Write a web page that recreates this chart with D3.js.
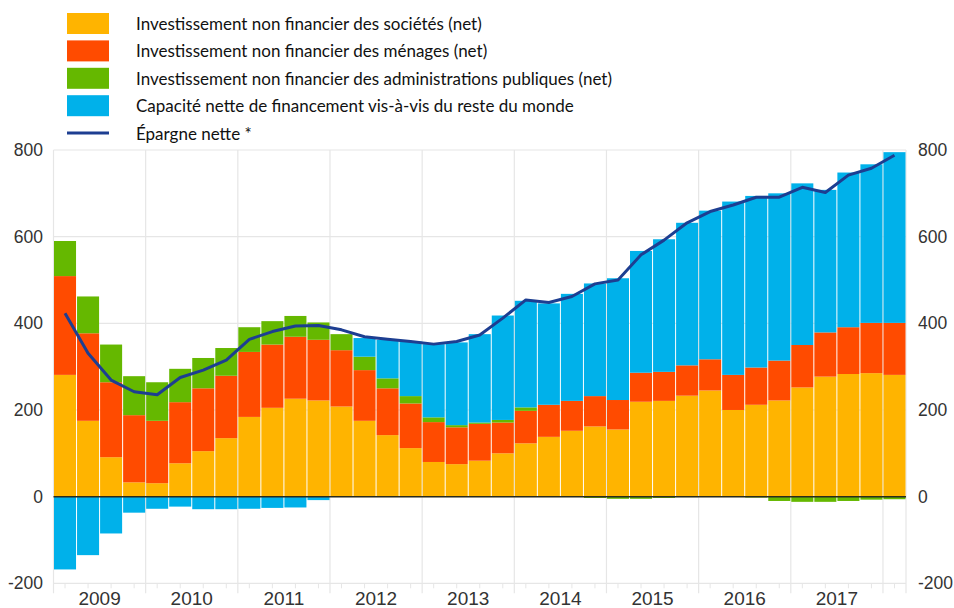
<!DOCTYPE html>
<html>
<head>
<meta charset="utf-8">
<style>
  body { margin: 0; background: #fff; }
  svg { display: block; }
  .tick-label { font-family: "Liberation Sans", Arial, sans-serif; font-size: 17.5px; fill: #333; }
  .year-label { font-family: "Liberation Sans", Arial, sans-serif; font-size: 19px; fill: #333; }
  .legend-label { font-family: Lato, "Open Sans", sans-serif; font-size: 17px; fill: #111; }
</style>
</head>
<body>
<svg width="954" height="608"></svg>
<script src="https://cdnjs.cloudflare.com/ajax/libs/d3/7.8.5/d3.min.js"></script>
<script>
// quarters 2009Q1 .. 2018Q1
let quarters = []
for (let y = 2009; y <= 2018; y++) {
  for (let q = 1; q <= 4; q++) {
    if (y == 2018 && q > 1) break
    quarters.push(y + "Q" + q)
  }
}

let years = ["2009", "2010", "2011", "2012", "2013", "2014", "2015", "2016", "2017"]
let yTicks = [-200, 0, 200, 400, 600, 800]

let seriesNames = [
  "Investissement non financier des sociétés (net)",
  "Investissement non financier des ménages (net)",
  "Investissement non financier des administrations publiques (net)",
  "Capacité nette de financement vis-à-vis du reste du monde"
]
let lineName = "Épargne nette *"

let societes = [281, 175, 91, 33, 31, 77, 105, 135, 184, 205, 226, 222,
  208, 175, 142, 112, 80, 75, 83, 100, 123, 138, 152, 162, 155,
  219, 221, 233, 245, 200, 212, 222, 252, 277, 283, 285, 281]

let menages = [228, 202, 173, 155, 144, 141, 145, 144, 150, 146, 143, 140,
  130, 117, 108, 103, 92, 85, 85, 71, 75, 74, 69, 70, 68,
  67, 67, 70, 72, 81, 86, 92, 98, 102, 108, 116, 120]

let administrations = [81, 85, 87, 90, 89, 77, 70, 64, 57, 54, 48, 40,
  37, 31, 23, 17, 11, 5, 3, 6, 8, 0, 0, -3, -5,
  -5, -3, -1, 0, 0, -2, -10, -12, -12, -10, -7, -6]

let capacite = [-168, -135, -85, -37, -28, -23, -29, -29, -28, -26, -25, -8,
  0, 43, 89, 126, 169, 191, 204, 241, 246, 234, 247, 260, 281,
  281, 306, 329, 343, 400, 396, 386, 373, 329, 357, 366, 394]

let epargne = [423, 331, 269, 242, 235, 275, 292, 315, 363, 381, 394, 395,
  385, 369, 363, 358, 352, 358, 373, 412, 454, 448, 462, 491, 500,
  558, 592, 632, 658, 673, 691, 691, 714, 702, 742, 758, 788]

let colors = ["#FFB400", "#FF4B00", "#65B800", "#00B1EA"]
let lineColor = "#1d3e91"

let keys = ["soc", "men", "apu", "cap"]
let table = quarters.map((q, i) => ({
  q: q, soc: societes[i], men: menages[i], apu: administrations[i], cap: capacite[i]
}))

let svg = d3.select("svg")

let plot = { left: 53.5, right: 906, top: 150, bottom: 583.3 }

let x = d3.scaleBand().domain(quarters).range([plot.left, plot.right]).paddingInner(0)
let y = d3.scaleLinear().domain([-200, 800]).range([plot.bottom, plot.top])

// grid
svg.append("g")
  .selectAll("line")
  .data(yTicks)
  .join("line")
  .attr("x1", plot.left).attr("x2", plot.right)
  .attr("y1", d => y(d)).attr("y2", d => y(d))
  .attr("stroke", "#e6e6e6").attr("stroke-width", 1.2)

let yearStarts = quarters.filter(q => q.endsWith("Q1"))
svg.append("g")
  .selectAll("line")
  .data(yearStarts)
  .join("line")
  .attr("x1", d => x(d)).attr("x2", d => x(d))
  .attr("y1", plot.top).attr("y2", plot.bottom + 10)
  .attr("stroke", "#e6e6e6").attr("stroke-width", 1.2)

svg.append("line")
  .attr("x1", plot.right).attr("x2", plot.right)
  .attr("y1", plot.top).attr("y2", plot.bottom + 10)
  .attr("stroke", "#e6e6e6").attr("stroke-width", 1.2)

// small quarter ticks
svg.append("g")
  .selectAll("line")
  .data(quarters)
  .join("line")
  .attr("x1", d => x(d) + x.bandwidth() / 2).attr("x2", d => x(d) + x.bandwidth() / 2)
  .attr("y1", plot.bottom).attr("y2", plot.bottom + 5)
  .attr("stroke", "#e6e6e6").attr("stroke-width", 1)

// bars
let stacked = d3.stack().keys(keys).offset(d3.stackOffsetDiverging)(table)

svg.append("g")
  .selectAll("g")
  .data(stacked)
  .join("g")
  .attr("fill", (d, i) => colors[i])
  .selectAll("rect")
  .data(d => d)
  .join("rect")
  .attr("x", d => x(d.data.q) + 0.5)
  .attr("width", x.bandwidth() - 1)
  .attr("y", d => y(Math.max(d[0], d[1])))
  .attr("height", d => Math.abs(y(d[0]) - y(d[1])))

// zero line
svg.append("line")
  .attr("x1", plot.left).attr("x2", plot.right)
  .attr("y1", y(0)).attr("y2", y(0))
  .attr("stroke", "#2b2b1a").attr("stroke-width", 1.5)

// line
let line = d3.line()
  .x((d, i) => x(quarters[i]) + x.bandwidth() / 2)
  .y(d => y(d))

svg.append("path")
  .datum(epargne)
  .attr("fill", "none")
  .attr("stroke", lineColor)
  .attr("stroke-width", 3)
  .attr("stroke-linejoin", "round")
  .attr("d", line)

// y labels both sides
svg.append("g")
  .selectAll("text")
  .data(yTicks)
  .join("text")
  .attr("class", "tick-label")
  .attr("x", 43).attr("y", d => y(d))
  .attr("dy", "0.35em")
  .attr("text-anchor", "end")
  .text(d => d)

svg.append("g")
  .selectAll("text")
  .data(yTicks)
  .join("text")
  .attr("class", "tick-label")
  .attr("x", 918).attr("y", d => y(d))
  .attr("dy", "0.35em")
  .text(d => d)

// year labels
svg.append("g")
  .selectAll("text")
  .data(years)
  .join("text")
  .attr("class", "year-label")
  .attr("x", d => x(d + "Q1") + 2 * x.step())
  .attr("y", 605)
  .attr("text-anchor", "middle")
  .text(d => d)

// legend
let legend = svg.append("g")
legend.selectAll("rect")
  .data(seriesNames)
  .join("rect")
  .attr("x", 67).attr("y", (d, i) => 13 + i * 27.4)
  .attr("width", 42).attr("height", 21)
  .attr("fill", (d, i) => colors[i])

legend.append("line")
  .attr("x1", 67).attr("x2", 109)
  .attr("y1", 133).attr("y2", 133)
  .attr("stroke", lineColor).attr("stroke-width", 3)

legend.selectAll("text")
  .data(seriesNames.concat([lineName]))
  .join("text")
  .attr("class", "legend-label")
  .attr("x", 136).attr("y", (d, i) => 24 + i * 27.4)
  .attr("dy", "0.35em")
  .text(d => d)
</script>
</body>
</html>
